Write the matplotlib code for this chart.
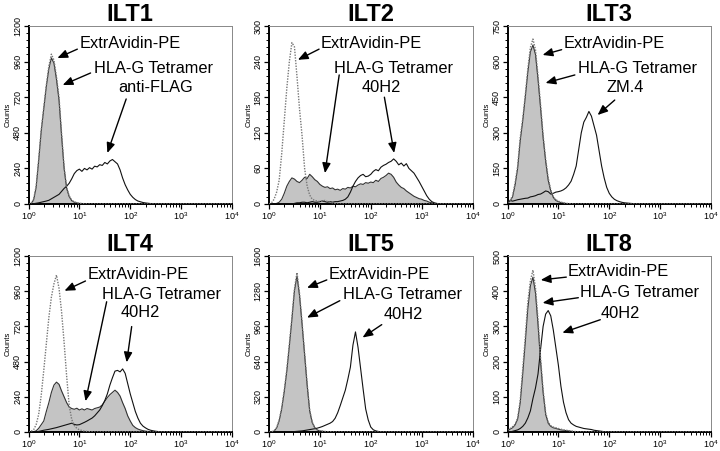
import numpy as np
import matplotlib
matplotlib.use('Agg')
import matplotlib.pyplot as plt
from matplotlib.ticker import LogLocator, MultipleLocator, NullFormatter

plt.rcParams['font.family'] = ['Liberation Sans', 'DejaVu Sans']

# channel grid: log10 fluorescence, 0.05 decade per bin
N_BINS = 81
log_channels = np.linspace(0, 4, N_BINS)

titles = ['ILT1', 'ILT2', 'ILT3', 'ILT4', 'ILT5', 'ILT8']
antibodies = ['anti-FLAG', '40H2', 'ZM.4', '40H2', '40H2', '40H2']
y_max = [1200, 300, 750, 1200, 1600, 500]

# ExtrAvidin-PE control (dotted)
ilt1_ctrl = [0, 5, 30, 120, 300, 500, 650, 800, 930, 1010, 970, 860, 720, 480, 250, 110, 55, 25, 15, 8, 5, 3, 2, 1]
ilt2_ctrl = [0, 2, 8, 20, 40, 85, 140, 195, 240, 272, 265, 215, 160, 115, 60, 30, 15, 8, 6, 5, 4, 5, 6, 4, 3, 2, 1]
ilt3_ctrl = [5, 15, 35, 90, 160, 280, 360, 460, 570, 660, 695, 650, 540, 420, 290, 190, 110, 60, 30, 18, 12, 8, 5, 3, 2, 1]
ilt4_ctrl = [0, 5, 15, 50, 120, 250, 420, 600, 780, 920, 1010, 1070, 980, 820, 610, 380, 180, 85, 45, 25, 15, 10, 6, 4, 2, 1]
ilt5_ctrl = [0, 2, 10, 40, 110, 220, 380, 570, 800, 1040, 1300, 1450, 1260, 1000, 720, 440, 200, 90, 40, 20, 12, 8, 5, 3, 2, 1]
ilt8_ctrl = [5, 10, 15, 22, 40, 90, 180, 270, 370, 430, 460, 410, 320, 210, 120, 55, 28, 18, 14, 12, 10, 8, 6, 5, 4, 3, 2, 1]

# HLA-G tetramer (grey filled)
ilt1_tet = [0, 3, 25, 110, 290, 490, 640, 790, 910, 985, 950, 840, 700, 460, 240, 105, 50, 22, 12, 7, 4, 3, 2, 2, 1, 1]
ilt2_tet = [0, 0, 0, 1, 3, 8, 18, 30, 38, 44, 42, 38, 36, 40, 45, 43, 50, 46, 41, 38, 33, 30, 28, 29, 26, 27,
            24, 25, 23, 26, 25, 28, 27, 30, 29, 32, 34, 33, 36, 35, 37, 36, 40, 38, 43, 45, 48, 52, 50, 45,
            37, 32, 28, 26, 22, 19, 16, 13, 11, 9, 8, 6, 5, 3, 2, 1]
ilt3_tet = [3, 12, 30, 80, 150, 265, 350, 450, 555, 640, 670, 630, 525, 405, 280, 180, 100, 55, 28, 15, 10, 6, 4, 2, 1]
ilt4_tet = [0, 0, 2, 8, 25, 50, 75, 140, 200, 270, 320, 340, 325, 280, 240, 200, 170, 160, 155, 162, 150, 158,
            150, 160, 155, 150, 160, 165, 170, 185, 210, 235, 255, 270, 285, 270, 245, 200, 160, 110, 75, 45,
            30, 20, 14, 9, 6, 4, 2, 1]
ilt5_tet = [0, 1, 8, 35, 100, 210, 365, 550, 780, 1020, 1280, 1420, 1240, 980, 700, 425, 190, 85, 38, 18, 10, 6, 4, 2, 1]
ilt8_tet = [3, 8, 12, 20, 36, 82, 165, 255, 350, 415, 440, 395, 305, 200, 112, 50, 25, 16, 12, 10, 8, 6, 5, 4, 3, 2, 1]

# specific antibody (solid line)
ilt1_ab = [0, 0, 2, 5, 8, 12, 16, 20, 25, 35, 45, 55, 65, 85, 105, 120, 140, 170, 205, 225, 235, 220, 240, 230,
           245, 235, 255, 250, 265, 260, 280, 270, 290, 300, 285, 270, 230, 175, 130, 95, 65, 45, 30, 20, 15,
           10, 7, 5, 3, 2, 1]
ilt2_ab = [0, 0, 0, 0, 0, 0, 0, 0, 0, 0, 1, 2, 2, 3, 3, 2, 3, 4, 3, 3, 4, 5, 4, 3, 4, 3, 4, 4, 5, 6, 8, 12, 20,
           30, 38, 44, 48, 50, 46, 47, 50, 55, 58, 56, 62, 65, 67, 70, 72, 76, 72, 66, 69, 64, 68, 60, 56, 52,
           45, 38, 30, 22, 14, 8, 4, 2, 1]
ilt3_ab = [10, 15, 12, 15, 18, 20, 22, 24, 25, 30, 32, 35, 40, 42, 48, 55, 52, 42, 45, 50, 52, 55, 60, 68, 80,
           96, 125, 160, 230, 300, 345, 365, 390, 370, 330, 290, 225, 160, 110, 70, 45, 30, 20, 14, 10, 7, 5,
           4, 3, 2, 1]
ilt4_ab = [0, 0, 0, 2, 4, 8, 12, 15, 18, 22, 26, 30, 35, 40, 45, 50, 55, 60, 52, 48, 50, 58, 66, 75, 85, 95,
           110, 130, 150, 180, 215, 260, 320, 370, 415, 420, 410, 430, 400, 330, 260, 200, 140, 95, 60, 40, 28,
           18, 12, 8, 5, 3, 2, 1]
ilt5_ab = [0, 0, 0, 0, 0, 0, 0, 0, 0, 2, 4, 6, 8, 10, 14, 18, 22, 26, 30, 35, 42, 50, 60, 70, 80, 95, 125, 175,
           240, 310, 380, 480, 590, 790, 910, 770, 580, 390, 210, 110, 45, 20, 10, 5, 2, 1]
ilt8_ab = [0, 0, 2, 4, 6, 10, 16, 25, 40, 60, 95, 125, 165, 235, 300, 335, 345, 330, 290, 240, 190, 130, 85, 55,
           35, 25, 20, 16, 14, 12, 10, 9, 8, 7, 5, 4, 3, 2, 1]

controls = [ilt1_ctrl, ilt2_ctrl, ilt3_ctrl, ilt4_ctrl, ilt5_ctrl, ilt8_ctrl]
tetramers = [ilt1_tet, ilt2_tet, ilt3_tet, ilt4_tet, ilt5_tet, ilt8_tet]
antibody_curves = [ilt1_ab, ilt2_ab, ilt3_ab, ilt4_ab, ilt5_ab, ilt8_ab]

# arrow tips in data units (fluorescence, counts): control, tetramer, antibody
tips_ctrl = [(3.7, 984), (3.7, 243), (4.9, 628), (5.1, 963), (5.6, 1311), (4.5, 432)]
tips_tet = [(4.7, 802), (12.6, 52), (5.6, 510), (13.2, 210), (5.6, 1040), (4.9, 367)]
tips_ab = [(35.5, 344), (288, 86), (59, 375), (85, 475), (69, 859), (12.0, 282)]

# label / arrow-tail placement in axes fraction
ctrl_text = [(0.25, 0.90), (0.256, 0.904), (0.276, 0.904), (0.29, 0.893), (0.294, 0.893), (0.294, 0.91)]
tet_text = [(0.32, 0.764), (0.32, 0.764), (0.345, 0.764), (0.36, 0.78), (0.363, 0.78), (0.358, 0.79)]
ab_text = [(0.442, 0.652), (0.453, 0.652), (0.488, 0.652), (0.453, 0.678), (0.564, 0.667), (0.46, 0.672)]
tail_ctrl = [(0.24, 0.87), (0.246, 0.87), (0.266, 0.867), (0.28, 0.858), (0.284, 0.864), (0.289, 0.88)]
tail_tet = [(0.305, 0.736), (0.345, 0.725), (0.331, 0.725), (0.384, 0.740), (0.348, 0.746), (0.348, 0.763)]
tail_ab = [(0.48, 0.59), (0.567, 0.60), (0.527, 0.584), (0.507, 0.599), (0.554, 0.610), (0.456, 0.638)]

fig = plt.figure(figsize=(7.2, 4.51), dpi=100)
W, H = 720.0, 451.0
lefts = [28.5, 269, 507.5]
rows = [(204, 178), (432, 176)]

x_vals = 10 ** log_channels


def pad(vals):
    return np.array(vals + [0] * (N_BINS - len(vals)), dtype=float)


arrow = dict(arrowstyle='-|>,head_length=0.6,head_width=0.25', color='black', lw=1.0,
             shrinkA=0, shrinkB=0)

for i in range(6):
    r, c = divmod(i, 3)
    bottom_px, h_px = rows[r]
    ax = fig.add_axes([lefts[c] / W, (H - bottom_px) / H, 203.5 / W, h_px / H])

    tet = pad(tetramers[i])
    ctrl = pad(controls[i])
    ab = pad(antibody_curves[i])

    ax.fill_between(x_vals, 0, tet, color='#c4c4c4', lw=0, zorder=1)
    ax.plot(x_vals, tet, color='#333333', lw=0.8, zorder=2)
    ax.plot(x_vals, ab, color='#111111', lw=0.8, zorder=3)
    ax.plot(x_vals, ctrl, color='#777777', lw=1.0, ls=(0, (1, 1)), zorder=4)

    ax.set_xscale('log')
    ax.set_xlim(1, 1e4)
    ax.set_ylim(0, y_max[i])
    ax.xaxis.set_major_locator(LogLocator(base=10, numticks=6))
    ax.xaxis.set_minor_locator(LogLocator(base=10, subs=np.arange(2, 10), numticks=20))
    ax.xaxis.set_minor_formatter(NullFormatter())
    ax.yaxis.set_major_locator(MultipleLocator(y_max[i] / 5))
    ax.yaxis.set_minor_locator(MultipleLocator(y_max[i] / 25))

    ax.tick_params(axis='both', which='major', direction='out', length=3.5, width=0.9,
                   labelsize=6.5, pad=1, color='black')
    ax.tick_params(axis='both', which='minor', direction='out', length=2, width=0.7, color='black')
    ax.tick_params(axis='y', which='major', labelsize=6.5, pad=1)
    for lab in ax.get_yticklabels():
        lab.set_rotation(90)
        lab.set_va('center')
    ax.set_ylabel('Counts', fontsize=5.5, labelpad=1)

    ax.spines['left'].set_linewidth(1.4)
    ax.spines['bottom'].set_linewidth(1.4)
    ax.spines['top'].set_linewidth(0.7)
    ax.spines['right'].set_linewidth(0.7)
    ax.spines['top'].set_color('#888888')
    ax.spines['right'].set_color('#888888')

    ax.set_title(titles[i], fontsize=17, fontweight='bold', pad=2)

    ax.text(*ctrl_text[i], 'ExtrAvidin-PE', transform=ax.transAxes, fontsize=11.8,
            ha='left', va='center')
    ax.text(*tet_text[i], 'HLA-G Tetramer', transform=ax.transAxes, fontsize=11.8,
            ha='left', va='center')
    ax.text(*ab_text[i], antibodies[i], transform=ax.transAxes, fontsize=11.8,
            ha='left', va='center')
    ax.annotate('', xy=tips_ctrl[i], xycoords='data', xytext=tail_ctrl[i],
                textcoords='axes fraction', arrowprops=arrow)
    ax.annotate('', xy=tips_tet[i], xycoords='data', xytext=tail_tet[i],
                textcoords='axes fraction', arrowprops=arrow)
    ax.annotate('', xy=tips_ab[i], xycoords='data', xytext=tail_ab[i],
                textcoords='axes fraction', arrowprops=arrow)

fig.savefig('out.png', dpi=100)
